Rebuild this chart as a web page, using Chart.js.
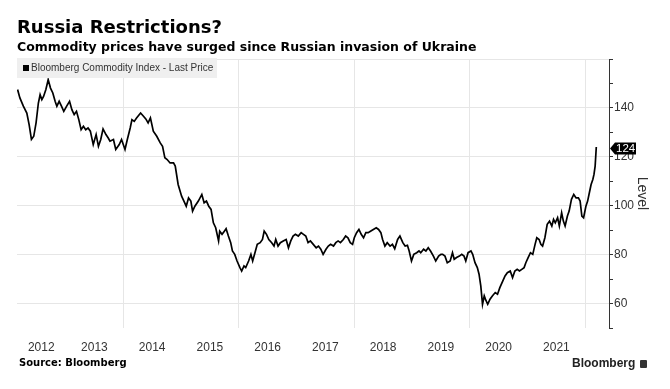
<!DOCTYPE html>
<html>
<head>
<meta charset="utf-8">
<script src="https://cdn.jsdelivr.net/npm/chart.js@4.4.0/dist/chart.umd.min.js"></script>
<style>
  html, body { margin: 0; padding: 0; background: #fff; }
  #wrap { position: relative; width: 670px; height: 389px; overflow: hidden; }
  #chart { position: absolute; left: 0; top: 0; }
  .txt { position: absolute; white-space: nowrap; color: #000; }
  #title { left: 17px; top: 18px; font: bold 18px "DejaVu Sans"; line-height: 18px; }
  #subtitle { left: 17px; top: 40px; font: bold 12.5px "DejaVu Sans"; line-height: 13px; }
  #legend { left: 17px; top: 58px; width: 200px; height: 20px; background: #efefef;
            font: 10px "Liberation Sans"; color: #333; line-height: 20px; }
  #legend i { display: inline-block; width: 6px; height: 6px; background: #000;
              margin: 0 2px 0 6px; vertical-align: 0px; }
  #source { left: 19px; top: 357px; font: bold 10px "DejaVu Sans"; line-height: 12px; }
  #brand { left: 572px; top: 356px; font: bold 12px "Liberation Sans"; line-height: 14px; color: #222; }
  #brand b { display: inline-block; width: 7px; height: 8px; background: #333; border-radius: 1px;
             margin-left: 5px; vertical-align: -1px; }
</style>
</head>
<body>
<div id="wrap">
  <canvas id="chart" width="670" height="389"></canvas>
  <div class="txt" id="title">Russia Restrictions?</div>
  <div class="txt" id="subtitle">Commodity prices have surged since Russian invasion of Ukraine</div>
  <div class="txt" id="legend"><i></i>Bloomberg Commodity Index - Last Price</div>
  <div class="txt" id="source">Source: Bloomberg</div>
  <div class="txt" id="brand">Bloomberg<b></b></div>
</div>
<script>
// Bloomberg Commodity Index (decimal year, level)
const years = [
  2012.17, 2012.21, 2012.27, 2012.33, 2012.37, 2012.41, 2012.45, 2012.49, 2012.53, 2012.56,
  2012.59, 2012.62, 2012.66, 2012.70, 2012.74, 2012.78, 2012.82, 2012.85, 2012.89, 2012.93,
  2012.97, 2013.02, 2013.07, 2013.11, 2013.15, 2013.19, 2013.23, 2013.27, 2013.31, 2013.35,
  2013.39, 2013.43, 2013.48, 2013.53, 2013.57, 2013.61, 2013.65, 2013.70, 2013.74, 2013.77,
  2013.83, 2013.87, 2013.93, 2013.97, 2014.03, 2014.07, 2014.12, 2014.15, 2014.19, 2014.23,
  2014.30, 2014.35, 2014.39, 2014.43, 2014.47, 2014.52, 2014.58, 2014.64, 2014.68, 2014.72,
  2014.76, 2014.81, 2014.87, 2014.90, 2014.95, 2015.01, 2015.05, 2015.09, 2015.13, 2015.17,
  2015.20, 2015.24, 2015.30, 2015.36, 2015.40, 2015.44, 2015.48, 2015.52, 2015.56, 2015.60,
  2015.65, 2015.67, 2015.71, 2015.75, 2015.78, 2015.82, 2015.86, 2015.89, 2015.93, 2015.97,
  2016.02, 2016.05, 2016.09, 2016.12, 2016.17, 2016.21, 2016.24, 2016.28, 2016.32, 2016.37,
  2016.41, 2016.44, 2016.48, 2016.52, 2016.57, 2016.61, 2016.64, 2016.68, 2016.72, 2016.77,
  2016.82, 2016.86, 2016.90, 2016.94, 2016.98, 2017.03, 2017.08, 2017.12, 2017.16, 2017.20,
  2017.24, 2017.29, 2017.34, 2017.38, 2017.42, 2017.46, 2017.51, 2017.55, 2017.59, 2017.64,
  2017.68, 2017.72, 2017.76, 2017.81, 2017.85, 2017.89, 2017.93, 2017.97, 2018.00, 2018.04,
  2018.08, 2018.12, 2018.16, 2018.20, 2018.24, 2018.28, 2018.33, 2018.38, 2018.42, 2018.46,
  2018.49, 2018.53, 2018.57, 2018.62, 2018.66, 2018.70, 2018.75, 2018.79, 2018.84, 2018.88,
  2018.92, 2018.95, 2018.99, 2019.03, 2019.08, 2019.12, 2019.15, 2019.20, 2019.24, 2019.28,
  2019.32, 2019.37, 2019.41, 2019.46, 2019.50, 2019.53, 2019.57, 2019.61, 2019.66, 2019.70,
  2019.73, 2019.77, 2019.82, 2019.86, 2019.90, 2019.93, 2019.97, 2020.02, 2020.05, 2020.09,
  2020.13, 2020.16, 2020.19, 2020.22, 2020.25, 2020.27, 2020.31, 2020.35, 2020.39, 2020.44,
  2020.48, 2020.52, 2020.57, 2020.61, 2020.65, 2020.70, 2020.74, 2020.78, 2020.82, 2020.86,
  2020.90, 2020.94, 2020.97, 2021.01, 2021.05, 2021.09, 2021.13, 2021.16, 2021.20, 2021.23,
  2021.26, 2021.30, 2021.34, 2021.38, 2021.42, 2021.45, 2021.48, 2021.52, 2021.55, 2021.59,
  2021.62, 2021.65, 2021.69, 2021.72, 2021.76, 2021.80, 2021.84, 2021.88, 2021.91, 2021.94,
  2021.97, 2022.01, 2022.04, 2022.07, 2022.10, 2022.13, 2022.15, 2022.17, 2022.19
];
const level = [
  147.5, 144.1, 140.7, 137.9, 133.2, 127.1, 128.4, 133.9, 142.0, 145.4,
  143.4, 144.7, 147.5, 151.5, 148.1, 146.1, 142.7, 140.7, 142.7, 140.7,
  138.6, 140.7, 142.7, 139.3, 137.3, 138.6, 135.2, 131.1, 132.5, 131.1,
  131.8, 130.5, 125.0, 129.1, 124.3, 127.1, 131.4, 129.1, 127.7, 126.4,
  127.1, 123.0, 125.0, 127.1, 123.0, 127.1, 131.8, 135.2, 134.5, 135.9,
  137.9, 136.6, 135.5, 133.9, 135.9, 130.5, 128.4, 125.7, 124.3, 119.6,
  118.9, 117.5, 117.5, 116.2, 108.7, 103.9, 101.9, 99.8, 103.2, 101.9,
  97.8, 99.8, 101.9, 104.6, 101.2, 101.9, 99.8, 98.5, 93.0, 91.0,
  85.6, 89.6, 88.3, 89.6, 90.6, 87.6, 84.9, 81.5, 80.1, 77.4,
  74.7, 73.3, 75.4, 74.7, 77.4, 80.1, 77.4, 80.8, 84.2, 84.9,
  86.2, 89.6, 88.3, 86.2, 84.9, 83.5, 86.2, 83.5, 84.9, 85.6,
  86.2, 82.8, 85.6, 87.6, 88.3, 87.6, 89.0, 88.3, 87.6, 84.9,
  85.6, 84.2, 82.8, 83.5, 82.2, 80.1, 82.2, 83.5, 84.2, 83.5,
  84.9, 85.6, 84.9, 86.2, 87.6, 86.9, 84.9, 84.2, 86.9, 89.0,
  90.3, 88.3, 86.9, 89.0, 89.0, 89.6, 90.3, 91.0, 90.3, 89.0,
  86.2, 83.5, 84.9, 83.5, 84.2, 82.4, 86.2, 87.6, 84.9, 83.5,
  83.8, 81.5, 77.4, 80.1, 80.8, 81.5, 80.8, 82.2, 81.5, 82.8,
  81.5, 79.4, 77.4, 79.4, 80.1, 80.1, 79.4, 76.7, 77.4, 80.8,
  78.1, 78.8, 79.4, 80.1, 79.4, 77.4, 80.8, 81.5, 80.1, 76.7,
  74.7, 72.0, 67.2, 59.7, 63.1, 61.8, 59.7, 61.8, 63.1, 64.5,
  63.8, 66.5, 69.2, 71.3, 72.6, 73.3, 70.6, 73.3, 74.0, 73.3,
  74.0, 74.7, 76.7, 78.8, 80.8, 80.1, 84.2, 86.9, 86.2, 84.2,
  83.5, 86.9, 92.4, 93.7, 91.7, 94.4, 93.0, 95.1, 91.7, 97.1,
  93.7, 91.7, 95.8, 97.8, 102.6, 104.6, 103.2, 103.2, 101.9, 95.8,
  95.1, 99.8, 101.9, 105.3, 108.7, 110.7, 112.8, 116.2, 124
];

const yearLabels = ['2012', '2013', '2014', '2015', '2016', '2017', '2018', '2019', '2020', '2021'];
const gridYears = [2014, 2016, 2018, 2020, 2022];
const levelTicks = [60, 80, 100, 120, 140];

const xStart = 2012.16, xEnd = 2022.41;
const yMin = 50, yMax = 160;

// labels sit in the middle of the visible part of each year
const labelPos = yearLabels.map((y, i) => i === 0 ? (xStart + 2013) / 2 : +y + 0.5);

const lastTag = {
  id: 'lastTag',
  afterDraw(chart) {
    const { ctx, chartArea } = chart;
    const y = chart.scales.y;
    const v = level[level.length - 1];
    const py = Math.round(y.getPixelForValue(v)) + 1.5;
    const x0 = chartArea.right + 1;
    ctx.save();
    ctx.fillStyle = '#000';
    ctx.beginPath();
    ctx.moveTo(x0, py);
    ctx.lineTo(x0 + 5, py - 6);
    ctx.lineTo(x0 + 26, py - 6);
    ctx.lineTo(x0 + 26, py + 6);
    ctx.lineTo(x0 + 5, py + 6);
    ctx.closePath();
    ctx.fill();
    ctx.fillStyle = '#fff';
    ctx.font = '11.5px "Liberation Sans"';
    ctx.textBaseline = 'middle';
    ctx.fillText(String(v), x0 + 6, py + 0.5);
    ctx.restore();
  }
};

new Chart(document.getElementById('chart'), {
  type: 'line',
  data: {
    datasets: [{
      label: 'Bloomberg Commodity Index - Last Price',
      data: years.map((x, i) => ({ x: x, y: level[i] })),
      borderColor: '#000',
      borderWidth: 1.7,
      pointRadius: 0,
      tension: 0
    }]
  },
  options: {
    responsive: false,
    animation: false,
    layout: { padding: { left: 17, top: 59, right: 0, bottom: 0 } },
    plugins: { legend: { display: false }, tooltip: { enabled: false } },
    scales: {
      x: {
        type: 'linear',
        min: xStart,
        max: xEnd,
        afterBuildTicks: axis => {
          axis.ticks = gridYears.map(v => ({ value: v }))
            .concat(labelPos.map(v => ({ value: v })))
            .sort((a, b) => a.value - b.value);
        },
        afterFit: axis => { axis.height = 61; },
        border: { display: false },
        grid: {
          drawTicks: false,
          color: c => (c.tick && gridYears.includes(c.tick.value)) ? '#e6e6e6' : 'rgba(0,0,0,0)'
        },
        ticks: {
          autoSkip: false,
          maxRotation: 0,
          minRotation: 0,
          padding: 12,
          color: '#333',
          font: { family: 'Liberation Sans', size: 12 },
          callback: v => {
            const i = labelPos.indexOf(v);
            return i >= 0 ? yearLabels[i] : '';
          }
        }
      },
      y: {
        position: 'right',
        min: yMin,
        max: yMax,
        afterFit: axis => { axis.width = 61; },
        border: { display: true, color: '#333', width: 1 },
        grid: {
          tickLength: 4,
          tickColor: '#333',
          color: c => (c.tick && c.tick.value % 20 === 0 && c.tick.value > yMin) ? '#e6e6e6' : 'rgba(0,0,0,0)'
        },
        ticks: {
          stepSize: 10,
          padding: 1,
          color: '#333',
          font: { family: 'Liberation Sans', size: 12 },
          callback: v => levelTicks.includes(v) ? String(v) : ''
        },
        title: {
          display: true,
          text: 'Level',
          color: '#333',
          padding: { top: 20, bottom: 0 },
          font: { family: 'Liberation Sans', size: 14 }
        }
      }
    }
  },
  plugins: [lastTag]
});
</script>
</body>
</html>
